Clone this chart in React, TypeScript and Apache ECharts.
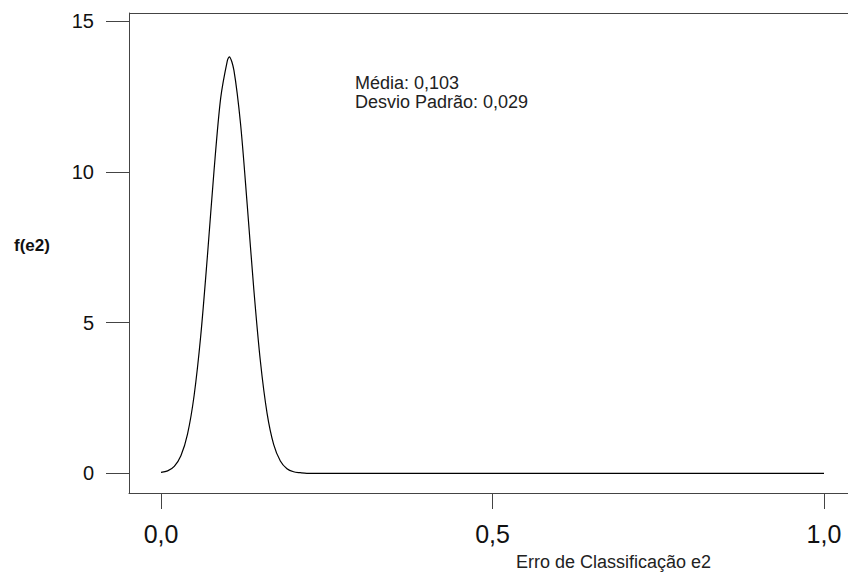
import React, { useEffect, useRef } from "react";
import * as echarts from "echarts";

// Erro de classificação e2 (x) and estimated density f(e2) (y)
const errorValues = [
  0, 0.01, 0.02, 0.03, 0.04, 0.05, 0.06, 0.07, 0.08, 0.09, 0.1, 0.103, 0.11,
  0.12, 0.13, 0.14, 0.15, 0.16, 0.17, 0.18, 0.19, 0.2, 0.21, 0.22, 0.25, 0.3,
  1.0,
];
const densityValues = [
  0.03, 0.08, 0.23, 0.58, 1.3, 2.59, 4.58, 7.21, 10.05, 12.45, 13.69, 13.82,
  13.37, 11.59, 8.92, 6.1, 3.7, 1.99, 0.95, 0.41, 0.15, 0.05, 0.02, 0.0, 0.0,
  0.0, 0.0,
];
const xTickValues = [0, 0.5, 1.0];
const yTickValues = [0, 5, 10, 15];
const annotationLines = ["Média: 0,103", "Desvio Padrão: 0,029"];
const xAxisTitle = "Erro de Classificação e2";
const yAxisTitle = "f(e2)";

const FONT = "'Liberation Sans', Arial, Helvetica, sans-serif";

export default function App() {
  const ref = useRef<HTMLDivElement>(null);

  useEffect(() => {
    if (!ref.current) return;
    const chart = echarts.init(ref.current, undefined, { renderer: "svg" });
    const data = errorValues.map((x, i) => [x, densityValues[i]]);

    chart.setOption({
      animation: false,
      backgroundColor: "#ffffff",
      grid: { left: 129, top: 13, width: 719, height: 480, show: false },
      xAxis: {
        type: "value",
        min: -0.04827,
        max: 1.0362,
        splitLine: { show: false },
        axisLine: {
          show: true,
          onZero: false,
          lineStyle: { color: "#444", width: 1 },
        },
        axisTick: {
          show: true,
          customValues: xTickValues,
          length: 16,
          lineStyle: { color: "#444", width: 1 },
        },
        axisLabel: {
          customValues: xTickValues,
          margin: 28,
          fontSize: 25,
          fontFamily: FONT,
          color: "#111",
          formatter: (v: number) => v.toFixed(1).replace(".", ","),
        },
      },
      yAxis: {
        type: "value",
        min: -0.6537,
        max: 15.275,
        splitLine: { show: false },
        axisLine: {
          show: true,
          onZero: false,
          lineStyle: { color: "#444", width: 1 },
        },
        axisTick: {
          show: true,
          customValues: yTickValues,
          length: 23,
          lineStyle: { color: "#444", width: 1 },
        },
        axisLabel: {
          customValues: yTickValues,
          margin: 35,
          fontSize: 20,
          fontFamily: FONT,
          color: "#111",
          formatter: (v: number) => String(v),
        },
      },
      series: [
        {
          type: "line",
          data,
          showSymbol: false,
          smooth: 0.3,
          lineStyle: { color: "#000", width: 1.2 },
        },
      ],
      graphic: [
        {
          type: "line",
          shape: { x1: 129, y1: 13.5, x2: 848, y2: 13.5 },
          style: { stroke: "#444", lineWidth: 1 },
          silent: true,
        },
        {
          type: "text",
          x: 14,
          y: 245,
          style: {
            text: yAxisTitle,
            fontSize: 17,
            fontWeight: "bold",
            fontFamily: FONT,
            fill: "#111",
            verticalAlign: "middle",
          },
        },
        {
          type: "text",
          x: 355,
          y: 83,
          style: {
            text: annotationLines[0],
            fontSize: 18,
            fontFamily: FONT,
            fill: "#222",
            verticalAlign: "middle",
          },
        },
        {
          type: "text",
          x: 355,
          y: 102,
          style: {
            text: annotationLines[1],
            fontSize: 18,
            fontFamily: FONT,
            fill: "#222",
            verticalAlign: "middle",
          },
        },
        {
          type: "text",
          x: 516,
          y: 562,
          style: {
            text: xAxisTitle,
            fontSize: 18,
            fontFamily: FONT,
            fill: "#222",
            verticalAlign: "middle",
          },
        },
      ],
    });

    return () => chart.dispose();
  }, []);

  return (
    <div
      ref={ref}
      style={{ position: "absolute", left: 0, top: 0, width: 848, height: 585 }}
    />
  );
}
